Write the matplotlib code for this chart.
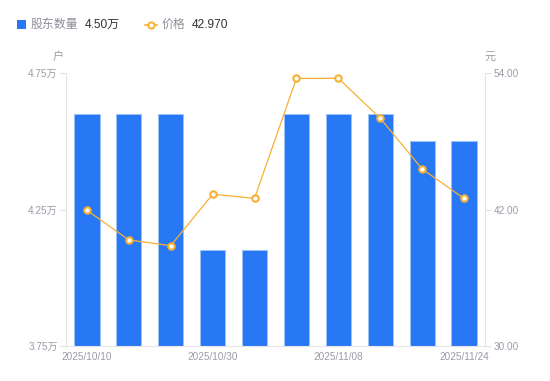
import matplotlib
matplotlib.use("Agg")
import matplotlib.pyplot as plt
from matplotlib.lines import Line2D
from matplotlib.patches import Rectangle

plt.rcParams['font.family'] = ['Liberation Sans', 'Noto Sans CJK SC', 'DejaVu Sans']

dates = ["2025/10/10", "2025/10/20", "2025/10/24", "2025/10/30", "2025/10/31",
         "2025/11/04", "2025/11/08", "2025/11/14", "2025/11/20", "2025/11/24"]
holders = [4.60, 4.60, 4.60, 4.10, 4.10, 4.60, 4.60, 4.60, 4.50, 4.50]  # 万户
price = [41.93, 39.32, 38.82, 43.34, 42.98, 53.53, 53.53, 50.02, 45.56, 42.97]
left_ticks = [3.75, 4.25, 4.75]
left_labels = ["3.75万", "4.25万", "4.75万"]
right_ticks = [30.0, 42.0, 54.0]
right_labels = ["30.00", "42.00", "54.00"]
shown_idx = [0, 3, 6, 9]

BLUE = "#2878F5"
ORANGE = "#F8B033"
GRAY = "#9B9BA8"
AXIS = "#E3E3E8"

fig = plt.figure(figsize=(5.5, 3.81), dpi=100)
ax = fig.add_axes([66/550, 1-346/381, 419/550, 273/381])
ax2 = ax.twinx()

x = list(range(len(dates)))
ax.bar(x, holders, width=0.6, color=BLUE, edgecolor="#9CC2FA", linewidth=0.7, zorder=2)
ax.set_xlim(-0.5, len(dates) - 0.5)
ax.set_ylim(left_ticks[0], left_ticks[-1])
ax.set_yticks(left_ticks)
ax.set_yticklabels(left_labels)
ax.set_xticks([x[i] for i in shown_idx])
ax.set_xticklabels([dates[i] for i in shown_idx])

ax2.plot(x, price, color=ORANGE, linewidth=0.9, marker="o", markersize=4.6,
         markerfacecolor="white", markeredgecolor=ORANGE, markeredgewidth=1.5, zorder=3)
ax2.set_ylim(right_ticks[0], right_ticks[-1])
ax2.set_yticks(right_ticks)
ax2.set_yticklabels(right_labels)

for a in (ax, ax2):
    for s in a.spines.values():
        s.set_visible(False)
ax.spines['left'].set_visible(True)
ax.spines['left'].set_color(AXIS)
ax.spines['bottom'].set_visible(True)
ax.spines['bottom'].set_color(AXIS)
ax2.spines['right'].set_visible(True)
ax2.spines['right'].set_color(AXIS)

ax.tick_params(axis='y', colors=AXIS, labelcolor=GRAY, labelsize=7.2, length=4, pad=2)
ax.tick_params(axis='x', length=0, labelcolor=GRAY, labelsize=7.2, pad=4)
ax2.tick_params(axis='y', colors=AXIS, labelcolor=GRAY, labelsize=7.2, length=4, pad=2)

fig.text(58/550, 1-57/381, "户", color=GRAY, fontsize=8, ha='center', va='center')
fig.text(490/550, 1-57/381, "元", color=GRAY, fontsize=8, ha='center', va='center')

# legend
fig.patches.append(Rectangle((17/550, 1-29/381), 9/550, 9/381, transform=fig.transFigure,
                             facecolor=BLUE, edgecolor='none'))
fig.text(31/550, 1-24.5/381, "股东数量", color="#8E8E9A", fontsize=8.6, va='center')
fig.text(85/550, 1-24.5/381, "4.50万", color="#333333", fontsize=8.6, va='center')
fig.lines.append(Line2D([145/550, 157/550], [1-24.5/381, 1-24.5/381], transform=fig.transFigure,
                        color=ORANGE, linewidth=1.2))
fig.lines.append(Line2D([151/550], [1-24.5/381], transform=fig.transFigure, marker='o',
                        markersize=4.5, markerfacecolor='white', markeredgecolor=ORANGE,
                        markeredgewidth=1.4, linestyle='none'))
fig.text(162/550, 1-24.5/381, "价格", color="#8E8E9A", fontsize=8.6, va='center')
fig.text(192/550, 1-24.5/381, "42.970", color="#333333", fontsize=8.6, va='center')

fig.savefig("out.png", dpi=100)
